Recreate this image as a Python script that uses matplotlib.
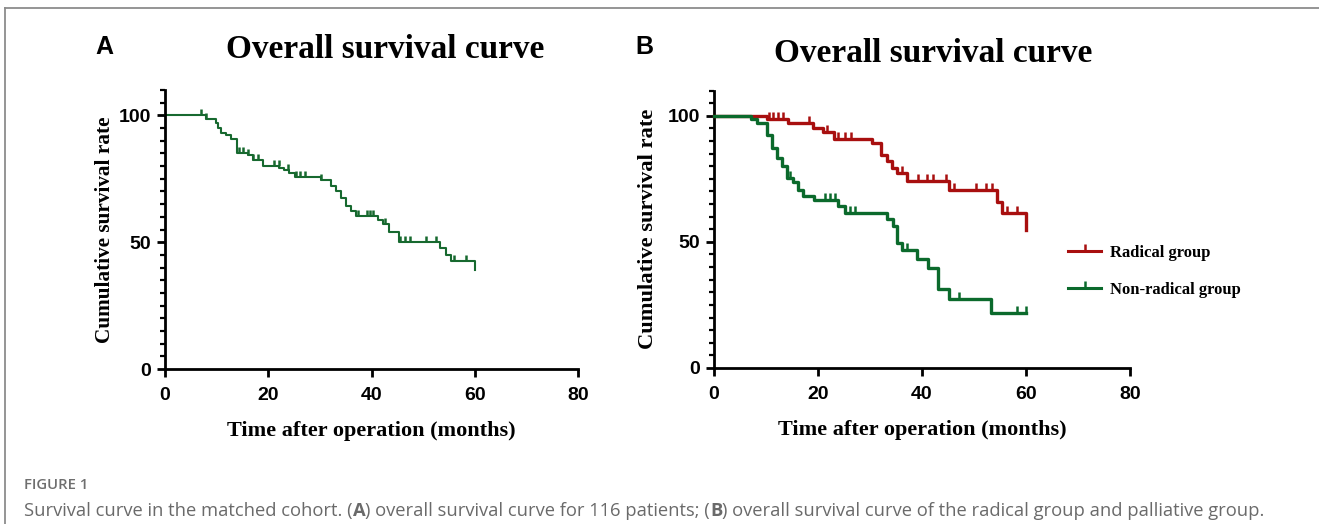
import numpy as np
import matplotlib
matplotlib.use("Agg")
import matplotlib.pyplot as plt
from matplotlib.lines import Line2D

# ---------------- data ----------------
# Panel A: overall survival (months, %)
time_A = [0, 7.9, 9.9, 10.2, 10.9, 11.8, 12.8, 14.0, 16.0, 17.0, 18.9, 22.1, 23.0,
          24.1, 25.1, 30.2, 32.2, 33.1, 34.1, 35.1, 36.0, 37.0, 41.2, 42.2, 43.3,
          45.3, 53.3, 54.4, 55.4, 60.0]
surv_A = [100, 98.7, 96.8, 95.1, 93.1, 92.1, 90.5, 85.2, 84.2, 82.3, 80.2, 79.3, 78.4,
          77.3, 75.8, 74.7, 72.3, 70.1, 67.5, 64.2, 62.2, 60.5, 58.9, 57.2, 53.9,
          49.9, 47.7, 45.1, 42.6, 39.1]
censor_A = [6.9, 7.9, 14.3, 15.2, 16.1, 17.1, 18.1, 21.2, 22.0, 23.8, 25.3, 26.1, 27.2,
            30.2, 37.3, 39.1, 39.7, 40.3, 42.6, 45.5, 46.5, 47.4, 50.5, 52.4, 56.0, 58.4]

# Panel B: radical group
time_R = [0, 10.1, 14.3, 19.0, 21.0, 23.1, 30.3, 32.2, 33.2, 34.2, 35.1, 37.1, 45.1,
          54.4, 55.3, 60.0]
surv_R = [100, 98.9, 97.1, 95.1, 93.4, 90.7, 89.1, 84.5, 81.9, 79.2, 77.2, 74.2, 70.6,
          66.0, 61.4, 54.8]
censor_R = [10.5, 11.4, 12.4, 13.3, 18.3, 21.7, 23.9, 25.2, 26.3, 36.1, 39.3, 40.9,
            42.2, 44.6, 46.2, 50.3, 52.3, 53.4, 56.3, 58.2]

# Panel B: non-radical group
time_G = [0, 7.2, 8.2, 10.1, 11.1, 12.1, 13.0, 14.1, 15.1, 16.2, 17.2, 19.3, 23.9,
          25.1, 33.2, 34.4, 35.1, 36.1, 39.1, 41.2, 43.1, 45.1, 53.3, 60.0]
surv_G = [100, 98.9, 97.1, 92.5, 87.2, 83.2, 79.9, 75.3, 73.9, 70.6, 68.0, 66.7, 64.3,
          61.4, 59.0, 56.1, 49.5, 46.6, 43.1, 39.6, 31.2, 27.4, 22.0, 22.0]
censor_G = [14.6, 21.3, 22.3, 23.3, 26.2, 27.1, 37.2, 47.2, 58.2, 60.0]

x_ticks = [0, 20, 40, 60, 80]
y_ticks = [0, 50, 100]
series_labels = ["Radical group", "Non-radical group"]
title_text = "Overall survival curve"
xlabel_text = "Time after operation (months)"
ylabel_text = "Cumulative survival rate"
caption_head = "FIGURE 1"
caption_parts = [("Survival curve in the matched cohort. (", "normal"), ("A", "bold"),
                 (") overall survival curve for 116 patients; (", "normal"), ("B", "bold"),
                 (") overall survival curve of the radical group and palliative group.",
                  "normal")]

GREEN_A = "#17692f"
GREEN = "#0b6a2c"
RED = "#a80f0f"

SERIF = "Liberation Serif"
SANS = "Liberation Sans"
W, H = 1319, 524


def surv_at(times, surv, t):
    idx = np.searchsorted(np.asarray(times), t, side="right") - 1
    return np.asarray(surv)[idx]


fig = plt.figure(figsize=(W / 100, H / 100), dpi=100)

# outer frame lines (top and left)
fig.add_artist(Line2D([5 / W, 1], [1 - 8 / H, 1 - 8 / H], color="#8c8c8c", lw=1.3,
                      transform=fig.transFigure))
fig.add_artist(Line2D([5 / W, 5 / W], [0, 1 - 8 / H], color="#8c8c8c", lw=1.3,
                      transform=fig.transFigure))


def style_axes(ax, ylab_size, ylab_pad):
    ax.set_xlim(0, 80)
    ax.set_ylim(0, 110)
    for s in ["top", "right"]:
        ax.spines[s].set_visible(False)
    for s in ["left", "bottom"]:
        ax.spines[s].set_linewidth(2.0)
    ax.set_xticks(x_ticks)
    ax.set_yticks(y_ticks)
    ax.set_yticks(np.arange(0, 111, 5), minor=True)
    ax.tick_params(axis="both", which="major", direction="out", length=6, width=2.0,
                   labelsize=14)
    ax.tick_params(axis="x", which="major", pad=7)
    ax.tick_params(axis="y", which="major", pad=4)
    ax.tick_params(axis="y", which="minor", direction="out", length=3.5, width=1.6)
    ax.tick_params(axis="x", which="minor", length=0)
    for lab in ax.get_xticklabels() + ax.get_yticklabels():
        lab.set_fontfamily(SANS)
        lab.set_fontweight("bold")
    ax.set_xlabel(xlabel_text, fontfamily=SERIF, fontweight="bold", fontsize=16,
                  labelpad=12)
    ax.set_ylabel(ylabel_text, fontfamily=SERIF, fontweight="bold", fontsize=ylab_size,
                  labelpad=ylab_pad)


# ---------------- panel A ----------------
axA = fig.add_axes([165 / W, 1 - 369 / H, 413 / W, 279 / H])
axA.step(time_A, surv_A, where="post", color=GREEN_A, lw=1.5, clip_on=False)
axA.plot(censor_A, surv_at(time_A, surv_A, censor_A), linestyle="none", marker=2,
         markersize=4.5, mew=1.8, color=GREEN_A, clip_on=False)
style_axes(axA, 15.3, 3)

# ---------------- panel B ----------------
axB = fig.add_axes([714 / W, 1 - 368 / H, 416 / W, 277.5 / H])
axB.step(time_R, surv_R, where="post", color=RED, lw=2.4, clip_on=False, zorder=3)
axB.plot(censor_R, surv_at(time_R, surv_R, censor_R), linestyle="none", marker=2,
         markersize=5, mew=1.8, color=RED, clip_on=False, zorder=3)
axB.step(time_G, surv_G, where="post", color=GREEN, lw=2.4, clip_on=False, zorder=4)
axB.plot(censor_G, surv_at(time_G, surv_G, censor_G), linestyle="none", marker=2,
         markersize=5, mew=1.8, color=GREEN, clip_on=False, zorder=4)
style_axes(axB, 16.2, 7)

handles = [Line2D([], [], color=RED, lw=2.2, marker=2, markersize=5, mew=1.8),
           Line2D([], [], color=GREEN, lw=2.2, marker=2, markersize=5, mew=1.8)]
fig.legend(handles, series_labels, loc="upper left",
           bbox_to_anchor=(1068 / W, 1 - 245 / H), frameon=False, numpoints=1,
           handlelength=2.0, handletextpad=0.5, labelspacing=1.25, borderpad=0,
           borderaxespad=0, prop={"family": SERIF, "weight": "bold", "size": 12})

# ---------------- titles and panel letters ----------------
fig.text(385 / W, 1 - 49 / H, title_text, ha="center", va="center",
         fontfamily=SERIF, fontweight="bold", fontsize=24)
fig.text(933 / W, 1 - 54 / H, title_text, ha="center", va="center",
         fontfamily=SERIF, fontweight="bold", fontsize=24)
fig.text(104 / W, 1 - 47 / H, "A", ha="center", va="center",
         fontfamily=SANS, fontweight="bold", fontsize=18)
fig.text(644 / W, 1 - 47 / H, "B", ha="center", va="center",
         fontfamily=SANS, fontweight="bold", fontsize=18)

# ---------------- caption ----------------
fig.text(24 / W, 1 - 485 / H, caption_head, ha="left", va="center",
         fontfamily="Open Sans", fontweight="semibold", fontsize=10.7, color="#6f6f6f")

cap_texts = []
for txt, wt in caption_parts:
    cap_texts.append(fig.text(24 / W, 1 - 516 / H, txt, ha="left", va="baseline",
                              fontfamily="Open Sans", fontweight=wt, fontsize=13.2,
                              color="#6a6a6a"))

fig.canvas.draw()
renderer = fig.canvas.get_renderer()
x_px = 24.0
for t in cap_texts:
    t.set_position((x_px / W, 1 - 516 / H))
    x_px += t.get_window_extent(renderer).width

fig.savefig("out.png", dpi=100)
